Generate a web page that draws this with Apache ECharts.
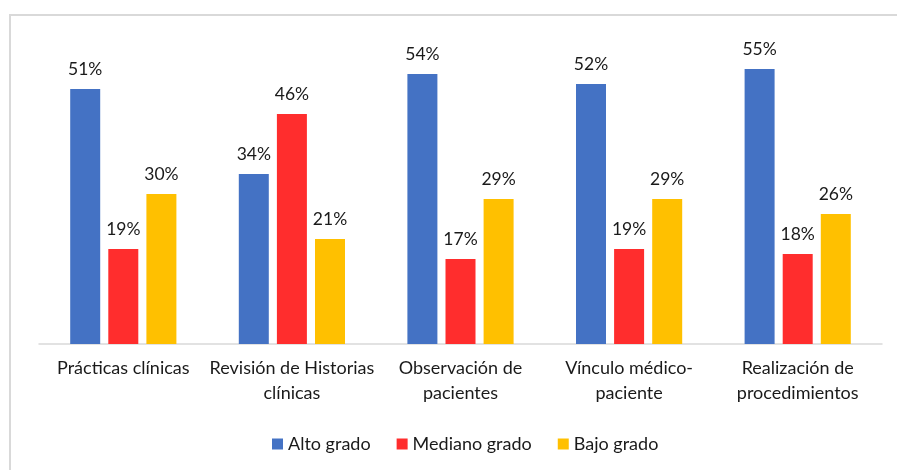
<!DOCTYPE html>
<html>
<head>
<meta charset="utf-8">
<script src="https://cdn.jsdelivr.net/npm/echarts@6/dist/echarts.min.js"></script>
<style>
  html, body { margin: 0; padding: 0; background: #fff; }
  #chart { width: 897px; height: 470px; }
</style>
</head>
<body>
<div id="chart"></div>
<script>
const categories = [
  "Prácticas clínicas",
  "Revisión de Historias\nclínicas",
  "Observación de\npacientes",
  "Vínculo médico-\npaciente",
  "Realización de\nprocedimientos"
];
const altoGrado = [51, 34, 54, 52, 55];
const medianoGrado = [19, 46, 17, 19, 18];
const bajoGrado = [30, 21, 29, 29, 26];

const font = "Lato, 'Noto Sans', sans-serif";

function barSeries(name, data, color) {
  return {
    name: name,
    type: "bar",
    data: data,
    barWidth: 30,
    barGap: "27%",
    itemStyle: { color: color },
    label: {
      show: true,
      position: "top",
      distance: 11,
      formatter: "{c}%",
      color: "#1a1a1a",
      fontSize: 17.5,
      fontFamily: font
    }
  };
}

let myChart = echarts.init(document.getElementById("chart"));
myChart.setOption({
  animation: false,
  graphic: [
    {
      type: "rect",
      shape: { x: 10, y: 15, width: 1000, height: 1000 },
      style: { fill: "none", stroke: "#d9d9d9", lineWidth: 2 },
      silent: true
    }
  ],
  legend: {
    data: ["Alto grado", "Mediano grado", "Bajo grado"],
    left: 267,
    top: 430,
    icon: "rect",
    itemWidth: 11,
    itemHeight: 11,
    itemGap: 26,
    textStyle: { fontSize: 18, color: "#1a1a1a", fontFamily: font }
  },
  grid: {
    left: 39,
    right: 15,
    top: 44,
    bottom: 126
  },
  xAxis: {
    type: "category",
    data: categories,
    axisLine: { lineStyle: { color: "#d9d9d9", width: 1.5 } },
    axisTick: { show: false },
    axisLabel: {
      interval: 0,
      margin: 12,
      fontSize: 18,
      lineHeight: 25,
      color: "#1a1a1a",
      fontFamily: font
    }
  },
  yAxis: {
    type: "value",
    min: 0,
    max: 60,
    show: false,
    splitLine: { show: false }
  },
  series: [
    barSeries("Alto grado", altoGrado, "#4472C4"),
    barSeries("Mediano grado", medianoGrado, "#FF2D2D"),
    barSeries("Bajo grado", bajoGrado, "#FFC000")
  ]
});
</script>
</body>
</html>
